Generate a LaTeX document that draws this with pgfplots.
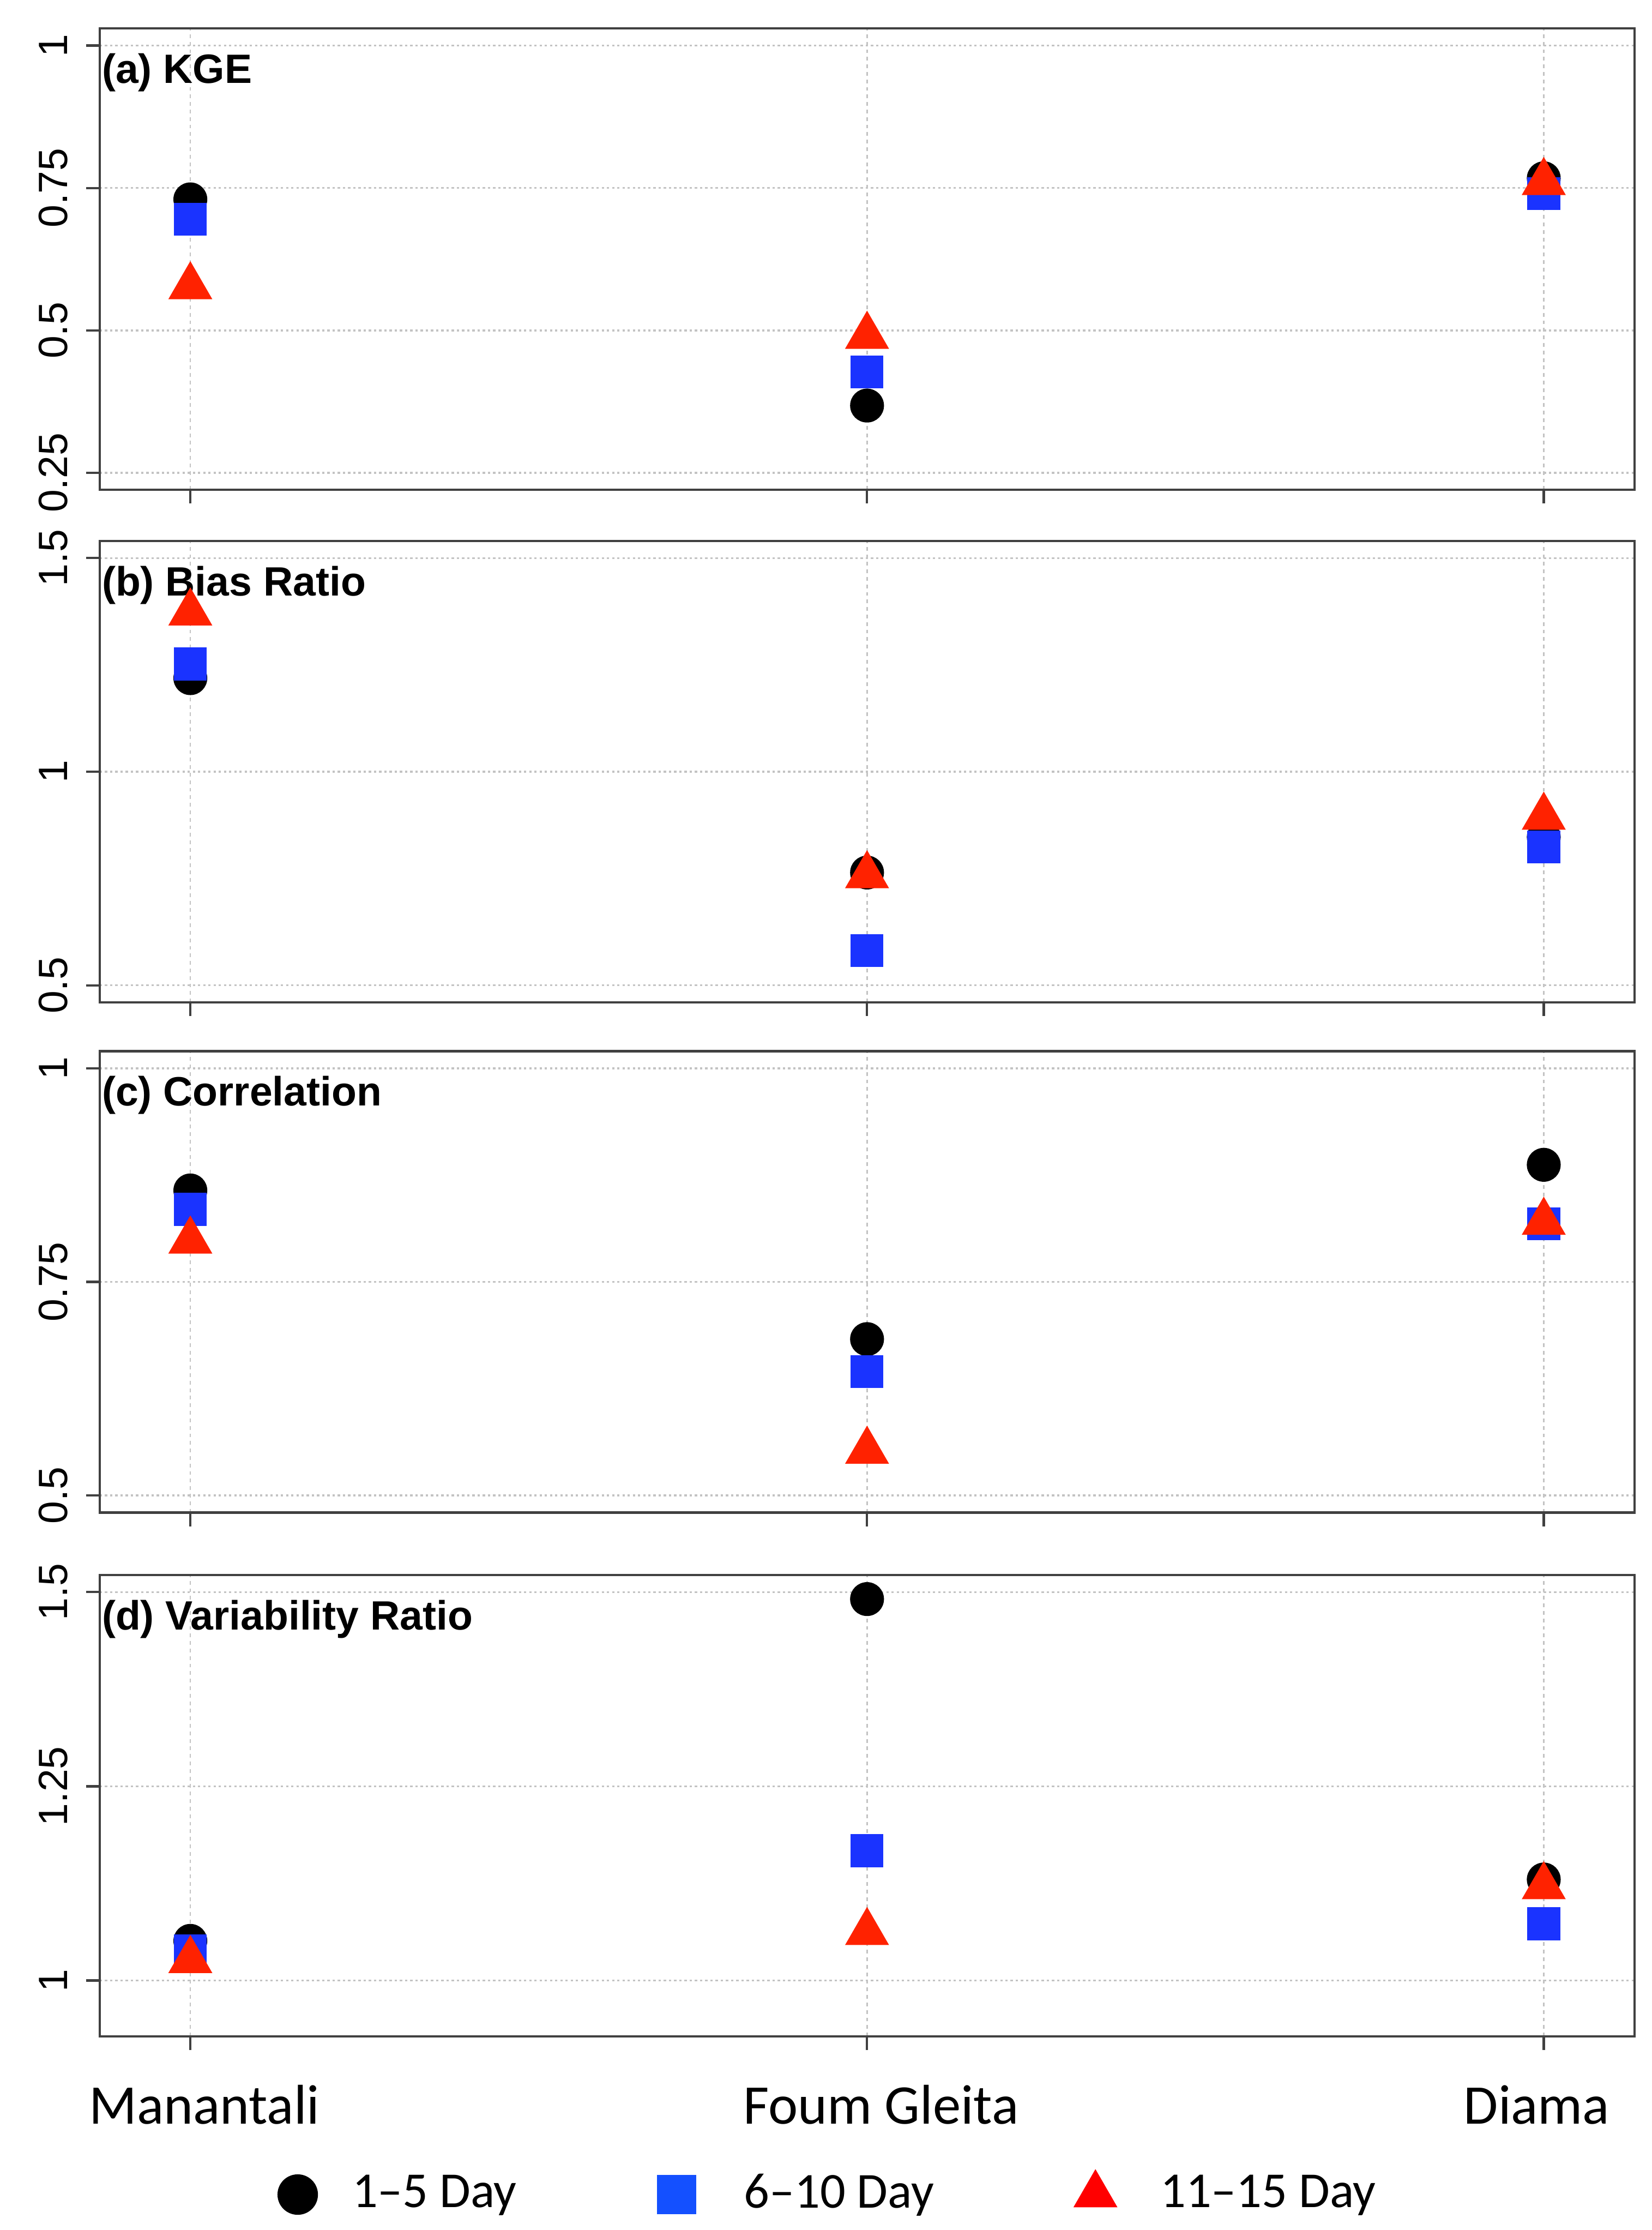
\documentclass[border=0pt]{standalone}
\usepackage{fontspec}
\setmainfont{Liberation Sans}
\newfontfamily\calibri{Carlito}
\usepackage{pgfplots}
\pgfplotsset{compat=1.18}

\definecolor{ptblue}{RGB}{26,51,255}
\definecolor{ptred}{RGB}{255,34,0}
\definecolor{lgblue}{RGB}{20,80,255}
\definecolor{lgred}{RGB}{255,0,0}
\definecolor{boxgray}{RGB}{64,64,64}
\definecolor{gridgray}{RGB}{195,195,195}

% shared look of the four panels
\pgfplotsset{
  panel/.style={
    scale only axis, width=326.2pt, height=98.04pt,
    anchor=north west,
    xmin=0.866, xmax=3.134, xtick={1,2,3}, xticklabels={},
    tick pos=left, tick align=outside, major tick length=2.9pt,
    tick style={boxgray, line width=0.5pt},
    axis line style={boxgray, line width=0.5pt},
    grid=major,
    x grid style={gridgray, dash pattern=on 0.8pt off 0.8pt, line width=0.3pt},
    y grid style={gridgray, dash pattern=on 0.5pt off 0.6pt, line width=0.4pt},
    /pgf/number format/assume math mode=true,
    yticklabel style={rotate=90, anchor=base, font=\fontsize{8.7}{10}\selectfont},
    yticklabel shift=4pt,
  },
  d15/.style={only marks, mark=*, mark size=3.4pt, black, mark options={draw=none}},
  d610/.style={only marks, mark=square*, mark size=3.3pt, ptblue, mark options={draw=none}},
  d1115/.style={only marks, mark=triangle*, mark size=5pt, ptred, mark options={draw=none}},
  % legend marker alone, with some empty room kept to its right
  lgimg/.style={legend image code/.code={%
    \draw[##1] plot coordinates {(0pt,0pt)};
    \path[draw=none, fill=none] (0pt,0pt) -- (#1,0pt);}},
}
\tikzset{
  plab/.style={anchor=base west, inner sep=0pt, xshift=0.3pt, yshift=-11.6pt,
    font=\bfseries\fontsize{8.7}{10}\selectfont},
}

\begin{document}
\begin{tikzpicture}
\path[use as bounding box] (-21.18pt,6.05pt) rectangle (329.82pt,-467.78pt);

% (a) KGE
\begin{axis}[panel, at={(0pt,0pt)}, ymin=0.22, ymax=1.03, ytick={0.25,0.5,0.75,1}]
\addplot[d15] coordinates {(1,0.730)(2,0.368)(3,0.767)};
\addplot[d610] coordinates {(1,0.695)(2,0.427)(3,0.740)};
\addplot[d1115] coordinates {(1,0.577)(2,0.490)(3,0.760)};
\node[plab] at (rel axis cs:0,1) {(a) KGE};
\end{axis}

% (b) Bias Ratio
\begin{axis}[panel, at={(0pt,-108.9pt)}, ymin=0.46, ymax=1.54, ytick={0.5,1,1.5}]
\addplot[d15] coordinates {(1,1.219)(2,0.764)(3,0.847)};
\addplot[d610] coordinates {(1,1.252)(2,0.581)(3,0.824)};
\addplot[d1115] coordinates {(1,1.372)(2,0.757)(3,0.894)};
\node[plab] at (rel axis cs:0,1) {(b) Bias Ratio};
\end{axis}

% (c) Correlation
\begin{axis}[panel, at={(0pt,-217.3pt)}, ymin=0.48, ymax=1.02, ytick={0.5,0.75,1}]
\addplot[d15] coordinates {(1,0.857)(2,0.683)(3,0.887)};
\addplot[d610] coordinates {(1,0.835)(2,0.645)(3,0.818)};
\addplot[d1115] coordinates {(1,0.798)(2,0.552)(3,0.820)};
\node[plab] at (rel axis cs:0,1) {(c) Correlation};
\end{axis}

% (d) Variability Ratio, with station names and legend
\begin{axis}[panel, at={(0pt,-328.6pt)}, ymin=0.928, ymax=1.522, ytick={1,1.25,1.5},
  xticklabels={\hspace{6pt}Manantali, \hspace{6pt}Foum Gleita, Diama\kern3pt},
  xticklabel style={font=\calibri\fontsize{11.9}{14}\selectfont, anchor=base, yshift=-15.7pt},
  legend columns=3,
  legend style={at={(axis description cs:0.474,-0.3395)}, anchor=center,
    draw=none, fill=none, nodes={inner sep=0pt},
    font=\calibri\fontsize{10.7}{12}\selectfont,
    /tikz/every odd column/.append style={column sep=7.5pt},
    /tikz/every even column/.append style={column sep=30pt}},
]
\addlegendimage{only marks, mark=*, mark size=4.1pt, black, mark options={draw=none}, lgimg=0pt}
\addlegendentry{1–5 Day}
\addlegendimage{only marks, mark=square*, mark size=4pt, lgblue, mark options={draw=none}, lgimg=6.8pt}
\addlegendentry{6–10 Day}
\addlegendimage{only marks, mark=triangle*, mark size=5pt, lgred, mark options={draw=none}, lgimg=6.3pt}
\addlegendentry{11–15 Day}
\addplot[d15, forget plot] coordinates {(1,1.051)(2,1.491)(3,1.130)};
\addplot[d610, forget plot] coordinates {(1,1.038)(2,1.167)(3,1.073)};
\addplot[d1115, forget plot] coordinates {(1,1.026)(2,1.062)(3,1.121)};
\node[plab] at (rel axis cs:0,1) {(d) Variability Ratio};
\end{axis}
\end{tikzpicture}
\end{document}
